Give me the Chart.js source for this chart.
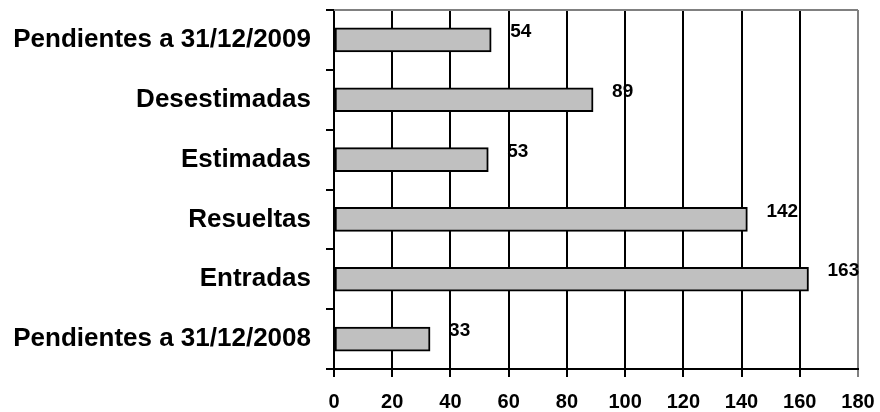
<!DOCTYPE html>
<html>
<head>
<meta charset="utf-8">
<script src="https://cdn.jsdelivr.net/npm/chart.js@4.4.1/dist/chart.umd.min.js"></script>
<style>
  html, body { margin: 0; padding: 0; background: #fff; }
  #wrap { width: 880px; height: 412px; }
</style>
</head>
<body>
<div id="wrap"><canvas id="casesChart" width="880" height="412"></canvas></div>
<script>
// Categories, top to bottom
const categories = [
  'Pendientes a 31/12/2009',
  'Desestimadas',
  'Estimadas',
  'Resueltas',
  'Entradas',
  'Pendientes a 31/12/2008',
];

// Number of cases per category
const cases = [54, 89, 53, 142, 163, 33];

// X axis range and step
const xMin = 0;
const xMax = 180;
const xStep = 20;

const FONT = '"Liberation Sans", Arial, sans-serif';

// Writes the value to the right of each bar, a little above its middle
const valueLabels = {
  id: 'valueLabels',
  afterDatasetsDraw(chart) {
    const ctx = chart.ctx;
    const meta = chart.getDatasetMeta(0);
    ctx.save();
    ctx.font = 'bold 19px ' + FONT;
    ctx.fillStyle = '#000';
    ctx.textAlign = 'left';
    ctx.textBaseline = 'middle';
    meta.data.forEach((bar, i) => {
      ctx.fillText(String(cases[i]), bar.x + 19, bar.y - 8);
    });
    ctx.restore();
  },
};

// Grey frame line across the top of the plot area
const topFrame = {
  id: 'topFrame',
  afterDraw(chart) {
    const { ctx, chartArea } = chart;
    ctx.save();
    ctx.strokeStyle = '#808080';
    ctx.lineWidth = 2;
    ctx.beginPath();
    ctx.moveTo(chartArea.left, chartArea.top);
    ctx.lineTo(chartArea.right, chartArea.top);
    ctx.stroke();
    ctx.restore();
  },
};

const ctx = document.getElementById('casesChart').getContext('2d');

const casesChart = new Chart(ctx, {
  type: 'bar',
  data: {
    labels: categories,
    datasets: [{
      data: cases,
      backgroundColor: '#c0c0c0',
      borderColor: '#000',
      borderWidth: 2,
      borderSkipped: false,
      barThickness: 24,
    }],
  },
  options: {
    indexAxis: 'y',
    responsive: false,
    animation: false,
    layout: {
      padding: { top: 10, right: 22, bottom: 0, left: 0 },
    },
    plugins: {
      legend: { display: false },
      tooltip: { enabled: false },
    },
    scales: {
      x: {
        min: xMin,
        max: xMax,
        ticks: {
          stepSize: xStep,
          color: '#000',
          padding: 13,
          font: { family: FONT, size: 20, weight: 'bold' },
        },
        grid: {
          color: (c) => (c.tick && c.tick.value === xMax ? '#808080' : '#000'),
          lineWidth: 2,
          tickLength: 8,
        },
        border: { color: '#000', width: 2 },
        afterFit(scale) {
          scale.height = 43;
          scale.paddingLeft = 0;
          scale.paddingRight = 0;
        },
      },
      y: {
        ticks: {
          color: '#000',
          padding: 15,
          font: { family: FONT, size: 26, weight: 'bold' },
        },
        grid: {
          drawOnChartArea: false,
          color: '#000',
          lineWidth: 2,
          tickLength: 8,
        },
        border: { color: '#000', width: 2 },
        afterFit(scale) {
          scale.width = 334;
          scale.paddingTop = 0;
          scale.paddingBottom = 0;
        },
      },
    },
  },
  plugins: [valueLabels, topFrame],
});
</script>
</body>
</html>
